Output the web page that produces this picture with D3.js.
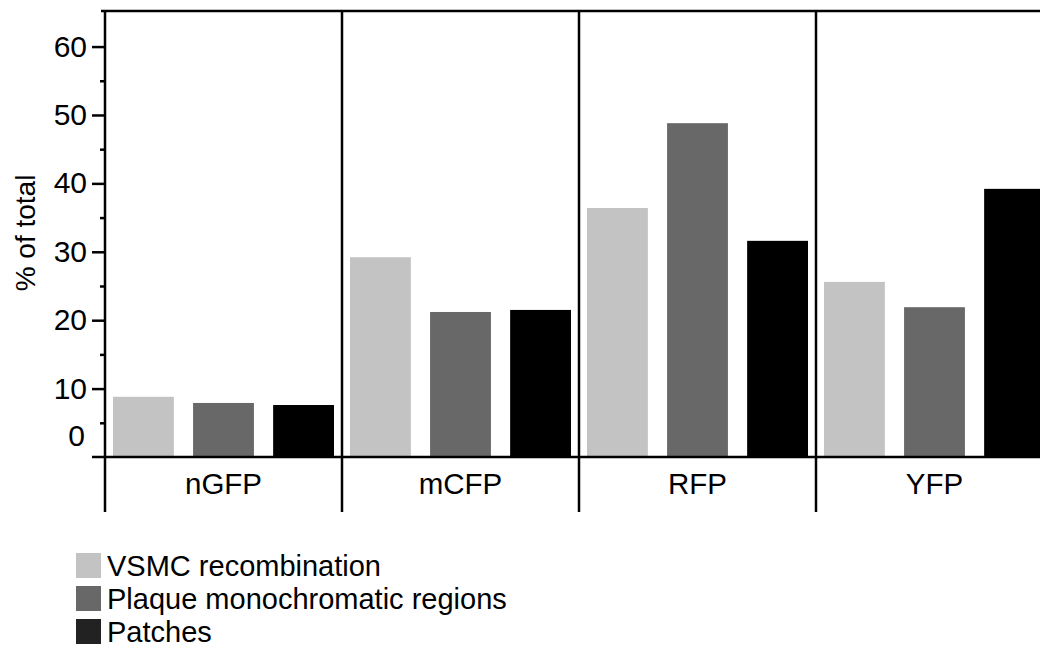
<!DOCTYPE html>
<html>
<head>
<meta charset="utf-8">
<script src="https://cdn.jsdelivr.net/npm/d3@7"></script>
<style>
  body { margin: 0; background: #fff; }
  svg text { font-family: "Liberation Sans", Arial, sans-serif; fill: #000; }
</style>
</head>
<body>
<div id="graphicContainer"></div>
<script>
// data
var groups = ["nGFP", "mCFP", "RFP", "YFP"];
var seriesNames = ["VSMC recombination", "Plaque monochromatic regions", "Patches"];
var vsmc = [8.8, 29.2, 36.4, 25.6];
var plaque = [7.9, 21.2, 48.8, 21.9];
var patches = [7.6, 21.5, 31.6, 39.2];
var yTicks = [10, 20, 30, 40, 50, 60];
var yMinorTicks = [5, 15, 25, 35, 45, 55];

var barColors = ["#c3c3c3", "#686868", "#000000"];
var legendColors = ["#c3c3c3", "#686868", "#222222"];

var width = 1040, height = 648;
var margin = {top: 11, left: 105, bottom: 191};

var svg = d3.select("#graphicContainer").append("svg")
    .attr("width", width)
    .attr("height", height);

var y = d3.scaleLinear()
    .domain([0, 65.2])
    .range([height - margin.bottom, margin.top]);

var x0 = d3.scaleBand()
    .domain(groups)
    .range([margin.left, margin.left + 237 * groups.length])
    .padding(0);

var x1 = d3.scaleBand()
    .domain(d3.range(seriesNames.length))
    .range([0, x0.bandwidth()])
    .paddingInner(0.24)
    .paddingOuter(0.1);

var rows = groups.map(function(g, i) {
    return {group: g, values: [vsmc[i], plaque[i], patches[i]]};
});

// bars
svg.append("g")
  .selectAll("g")
  .data(rows)
  .enter().append("g")
    .attr("transform", function(d) { return "translate(" + x0(d.group) + ",0)"; })
  .selectAll("rect")
  .data(function(d) { return d.values; })
  .enter().append("rect")
    .attr("x", function(d, i) { return x1(i); })
    .attr("y", function(d) { return y(d); })
    .attr("width", x1.bandwidth())
    .attr("height", function(d) { return y(0) - y(d); })
    .attr("fill", function(d, i) { return barColors[i]; });

var lineBottom = 512;

// baseline
svg.append("line")
    .attr("x1", margin.left - 13).attr("x2", width)
    .attr("y1", y(0)).attr("y2", y(0))
    .attr("stroke", "#000").attr("stroke-width", 2.5);

// top frame
svg.append("line")
    .attr("x1", margin.left - 4).attr("x2", width)
    .attr("y1", margin.top).attr("y2", margin.top)
    .attr("stroke", "#000").attr("stroke-width", 2.5);

// left axis and group dividers
var dividers = groups.map(function(g) { return x0(g); });
svg.append("g")
  .selectAll("line")
  .data(dividers)
  .enter().append("line")
    .attr("x1", function(d) { return d; })
    .attr("x2", function(d) { return d; })
    .attr("y1", margin.top)
    .attr("y2", lineBottom)
    .attr("stroke", "#000")
    .attr("stroke-width", 2.5);

// y axis ticks
var yAxis = d3.axisLeft(y).tickValues(yTicks).tickSize(13).tickPadding(5);
var ga = svg.append("g")
    .attr("transform", "translate(" + margin.left + ",0)")
    .call(yAxis);
ga.select(".domain").remove();
ga.selectAll(".tick line").attr("stroke", "#000").attr("stroke-width", 2.5);
ga.selectAll(".tick text").style("font-size", "30px");

var gm = svg.append("g")
    .attr("transform", "translate(" + margin.left + ",0)")
    .call(d3.axisLeft(y).tickValues(yMinorTicks).tickSize(5).tickFormat(""));
gm.select(".domain").remove();
gm.selectAll(".tick line").attr("stroke", "#000").attr("stroke-width", 2.5);

// the "0" label sits above the baseline in the original
svg.append("text")
    .attr("x", margin.left - 20)
    .attr("y", y(3.2))
    .attr("dy", "0.35em")
    .attr("text-anchor", "end")
    .style("font-size", "30px")
    .text("0");

// axis title
svg.append("text")
    .attr("transform", "translate(35,233) rotate(-90)")
    .attr("text-anchor", "middle")
    .style("font-size", "28px")
    .text("% of total");

// category labels
svg.append("g")
  .selectAll("text")
  .data(groups)
  .enter().append("text")
    .attr("x", function(d) { return x0(d) + x0.bandwidth() / 2; })
    .attr("y", 494)
    .attr("text-anchor", "middle")
    .style("font-size", "29.5px")
    .text(function(d) { return d; });

// legend
var legend = svg.append("g")
    .attr("transform", "translate(76,553)");

var item = legend.selectAll("g")
    .data(seriesNames)
    .enter().append("g")
    .attr("transform", function(d, i) { return "translate(0," + (i * 33) + ")"; });

item.append("rect")
    .attr("width", 25).attr("height", 25)
    .attr("fill", function(d, i) { return legendColors[i]; });

item.append("text")
    .attr("x", 31)
    .attr("y", 12.5)
    .attr("dy", "0.35em")
    .style("font-size", "29px")
    .text(function(d) { return d; });
</script>
</body>
</html>
